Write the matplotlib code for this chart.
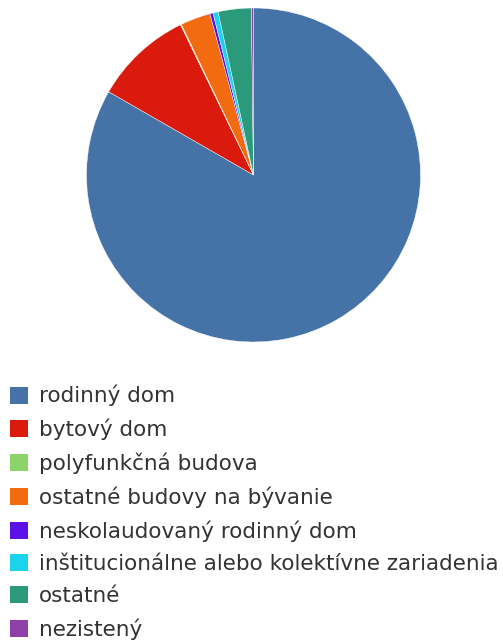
import matplotlib.pyplot as plt
from matplotlib.patches import Patch

labels = ["rodinný dom", "bytový dom", "polyfunkčná budova", "ostatné budovy na bývanie",
          "neskolaudovaný rodinný dom", "inštitucionálne alebo kolektívne zariadenia",
          "ostatné", "nezistený"]
shares = [83.3, 9.5, 0.1, 2.9, 0.3, 0.5, 3.2, 0.2]
colors = ["#4572a7", "#db1a0e", "#8cd46a", "#f26b10", "#5a10e6", "#1cd3ee", "#2a9a7a", "#8e40a8"]

W, H = 503, 642
fig = plt.figure(figsize=(W / 100, H / 100), dpi=100)

# pie
cx, cy, r = 253.5, 175, 167
ax = fig.add_axes([(cx - r) / W, (H - cy - r) / H, 2 * r / W, 2 * r / H])
ax.pie(shares, colors=colors, startangle=90, counterclock=False,
       wedgeprops=dict(linewidth=0.3, edgecolor="white"))
ax.set_xlim(-1, 1)
ax.set_ylim(-1, 1)
ax.set_aspect("equal")
ax.axis("off")

# legend
handles = [Patch(facecolor=c, edgecolor="none") for c in colors]
fig.legend(handles, labels, loc="upper left", bbox_to_anchor=(10 / W, 1 - 385 / H),
           frameon=False, fontsize=15.5, labelcolor="#333333",
           handlelength=0.84, handleheight=0.84, handletextpad=0.52,
           labelspacing=0.57, borderaxespad=0, borderpad=0)

fig.savefig("out.png", dpi=100)
